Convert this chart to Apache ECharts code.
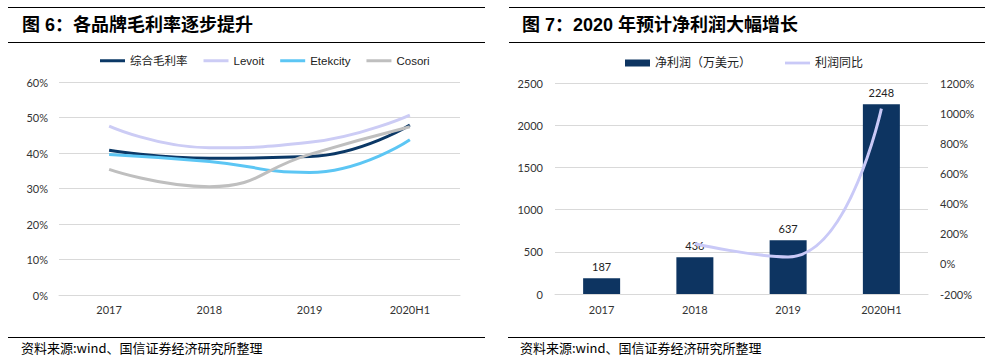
<!DOCTYPE html>
<html>
<head>
<meta charset="utf-8">
<script src="https://cdn.jsdelivr.net/npm/echarts@6/dist/echarts.min.js"></script>
<style>
html,body{margin:0;padding:0;background:#fff;}
#c{width:991px;height:356px;}
</style>
</head>
<body>
<div id="c"></div>
<script>
// ---- data ----
const categories = ['2017', '2018', '2019', '2020H1'];
const marginNames = ['综合毛利率', 'Levoit', 'Etekcity', 'Cosori'];
const grossMargin = [40.8, 38.5, 39.0, 47.9];
const levoitMargin = [47.6, 41.5, 43.0, 50.7];
const etekcityMargin = [39.6, 37.6, 34.5, 43.7];
const cosoriMargin = [35.4, 30.5, 39.6, 47.4];
const netProfit = [187, 436, 637, 2248];
const profitYoY = [null, 133, 46, 1030];
const profitNames = ['净利润（万美元）', '利润同比'];
const leftTitle = '图 6：各品牌毛利率逐步提升';
const rightTitle = '图 7：2020 年预计净利润大幅增长';
const sourceText = '资料来源:wind、国信证券经济研究所整理';

const FONT = '"Liberation Sans", "Noto Sans CJK SC", sans-serif';
const LABEL_FONT = 'Lato, "Noto Sans CJK SC", sans-serif';
const GRID_COLOR = '#d9d9d9';
const LABEL_COLOR = '#333';

const chart = echarts.init(document.getElementById('c'), null, {renderer: 'svg'});

function rule(x1, x2, y) {
  return {type: 'line', shape: {x1: x1, y1: y, x2: x2, y2: y}, style: {stroke: '#000', lineWidth: 1}, silent: true};
}
function txt(t, x, y, font) {
  return {type: 'text', x: x, y: y, style: {text: t, font: font, fill: '#000', verticalAlign: 'middle', align: 'left'}, silent: true};
}
const plain = v => String(v);
const pct = v => v + '%';

const lineSeries = (name, data, color) => ({
  name: name, type: 'line', xAxisIndex: 0, yAxisIndex: 0, data: data,
  smooth: true, symbol: 'none', showSymbol: false,
  lineStyle: {width: 3, color: color}, itemStyle: {color: color}
});

chart.setOption({
  animation: false,
  textStyle: {fontFamily: LABEL_FONT},
  graphic: [
    rule(8, 485, 7.5), rule(8, 485, 42.5), rule(8, 485, 337.5),
    rule(509, 985, 7.5), rule(509, 985, 42.5), rule(508, 985, 337.5),
    txt(leftTitle, 22, 25, 'bold 18px ' + FONT),
    txt(rightTitle, 522, 25, 'bold 18px ' + FONT),
    txt(sourceText, 21, 347, '13px "Noto Sans CJK SC", sans-serif'),
    txt(sourceText, 520, 347, '13px "Noto Sans CJK SC", sans-serif')
  ],
  legend: [
    {
      left: 100, top: 55, padding: 0, itemWidth: 25, itemHeight: 3, itemGap: 16,
      icon: 'rect',
      data: marginNames,
      textStyle: {fontSize: 11.5, color: '#222', fontFamily: FONT}
    },
    {
      left: 625, top: 57, padding: 0, itemWidth: 25, itemHeight: 7, itemGap: 34,
      data: [
        {name: profitNames[0], icon: 'rect'},
        {name: profitNames[1], icon: 'path://M0,0h27v3h-27z'}
      ],
      textStyle: {fontSize: 12, color: '#222', fontFamily: FONT}
    }
  ],
  grid: [
    {left: 59, right: 531, top: 82, bottom: 61},
    {left: 555, right: 63, top: 83, bottom: 62}
  ],
  xAxis: [
    {
      type: 'category', gridIndex: 0, data: categories, boundaryGap: true,
      axisTick: {show: false}, axisLine: {lineStyle: {color: GRID_COLOR}},
      axisLabel: {color: LABEL_COLOR, fontSize: 11, margin: 9}
    },
    {
      type: 'category', gridIndex: 1, data: categories, boundaryGap: true,
      axisTick: {show: false}, axisLine: {lineStyle: {color: GRID_COLOR}},
      axisLabel: {color: LABEL_COLOR, fontSize: 11, margin: 10}
    }
  ],
  yAxis: [
    {
      type: 'value', gridIndex: 0, min: 0, max: 60, interval: 10,
      axisLabel: {formatter: pct, color: LABEL_COLOR, fontSize: 11, margin: 11},
      axisLine: {show: false}, axisTick: {show: false},
      splitLine: {lineStyle: {color: GRID_COLOR}}
    },
    {
      type: 'value', gridIndex: 1, min: 0, max: 2500, interval: 500,
      axisLabel: {formatter: plain, color: LABEL_COLOR, fontSize: 11, margin: 12},
      axisLine: {show: false}, axisTick: {show: false},
      splitLine: {lineStyle: {color: GRID_COLOR}}
    },
    {
      type: 'value', gridIndex: 1, position: 'right', min: -200, max: 1200, interval: 200,
      axisLabel: {formatter: pct, color: LABEL_COLOR, fontSize: 11, margin: 12},
      axisLine: {show: false}, axisTick: {show: false},
      splitLine: {show: false}
    }
  ],
  series: [
    lineSeries(marginNames[0], grossMargin, '#0b3866'),
    lineSeries(marginNames[1], levoitMargin, '#ccccf5'),
    lineSeries(marginNames[2], etekcityMargin, '#5cc6f4'),
    lineSeries(marginNames[3], cosoriMargin, '#bfbfbf'),
    {
      name: profitNames[0], type: 'bar', xAxisIndex: 1, yAxisIndex: 1, data: netProfit,
      barWidth: 37, itemStyle: {color: '#0d3461'},
      label: {show: true, position: 'top', distance: 6, fontSize: 11, color: '#222'}
    },
    {
      name: profitNames[1], type: 'line', xAxisIndex: 1, yAxisIndex: 2, data: profitYoY,
      smooth: true, symbol: 'none', showSymbol: false,
      lineStyle: {width: 3, color: '#c9c9f7'}, itemStyle: {color: '#c9c9f7'}
    }
  ]
});
</script>
</body>
</html>
